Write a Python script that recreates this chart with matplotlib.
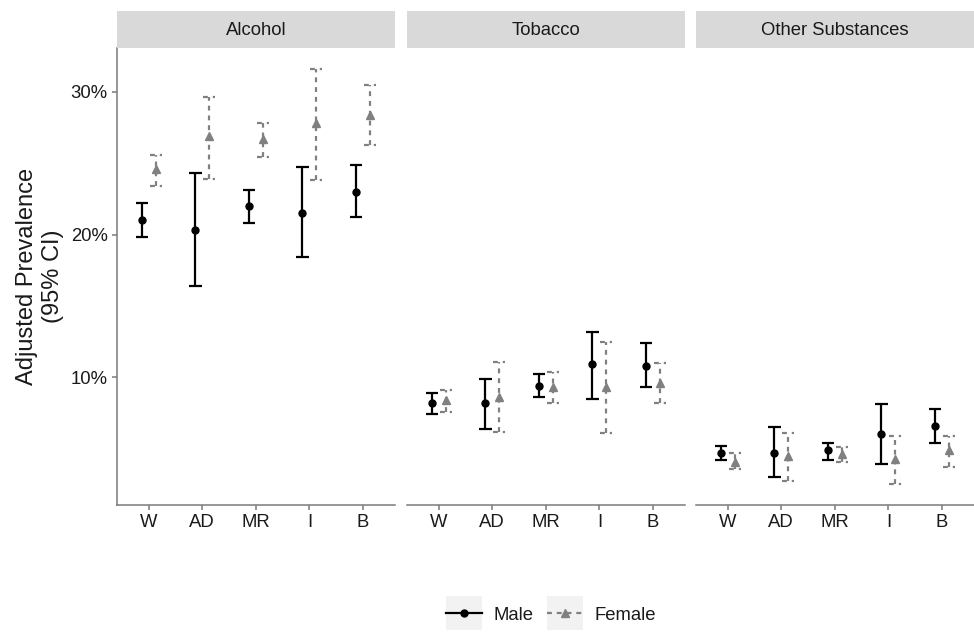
import matplotlib
matplotlib.use("Agg")
import matplotlib.pyplot as plt
from matplotlib.lines import Line2D
from matplotlib.patches import Rectangle
from matplotlib.legend_handler import HandlerLine2D

plt.rcParams['font.family'] = ['Liberation Sans', 'DejaVu Sans']

# data (percent)
groups = ["W", "AD", "MR", "I", "B"]
panels = ["Alcohol", "Tobacco", "Other Substances"]

alcohol_male = [21.0, 20.3, 22.0, 21.5, 23.0]
alcohol_male_lo = [19.8, 16.4, 20.8, 18.4, 21.2]
alcohol_male_hi = [22.2, 24.3, 23.1, 24.7, 24.9]
alcohol_female = [24.6, 26.9, 26.7, 27.8, 28.4]
alcohol_female_lo = [23.4, 23.9, 25.45, 23.8, 26.3]
alcohol_female_hi = [25.6, 29.6, 27.8, 31.6, 30.5]

tobacco_male = [8.2, 8.2, 9.4, 10.9, 10.8]
tobacco_male_lo = [7.4, 6.4, 8.6, 8.5, 9.3]
tobacco_male_hi = [8.9, 9.9, 10.2, 13.2, 12.4]
tobacco_female = [8.4, 8.6, 9.3, 9.3, 9.6]
tobacco_female_lo = [7.6, 6.2, 8.2, 6.1, 8.2]
tobacco_female_hi = [9.1, 11.1, 10.4, 12.5, 11.0]

other_male = [4.7, 4.7, 4.9, 6.0, 6.6]
other_male_lo = [4.2, 3.0, 4.2, 3.9, 5.4]
other_male_hi = [5.2, 6.5, 5.4, 8.1, 7.8]
other_female = [4.05, 4.5, 4.6, 4.3, 4.9]
other_female_lo = [3.55, 2.75, 4.1, 2.5, 3.7]
other_female_hi = [4.7, 6.1, 5.1, 5.9, 5.9]

yticks = [10, 20, 30]

panel_data = [
    (alcohol_male, alcohol_male_lo, alcohol_male_hi, alcohol_female, alcohol_female_lo, alcohol_female_hi),
    (tobacco_male, tobacco_male_lo, tobacco_male_hi, tobacco_female, tobacco_female_lo, tobacco_female_hi),
    (other_male, other_male_lo, other_male_hi, other_female, other_female_lo, other_female_hi),
]

W, H = 974, 632
fig = plt.figure(figsize=(W / 100, H / 100), dpi=100)

axis_col = '#7a7a7a'
text_col = '#1a1a1a'
grey = '#808080'
dodge = 0.13
cap = 0.115
dash = (0, (2.2, 2.2))

panel_left = [116.7, 406.7, 695.7]
panel_w = 278.3
top, bottom = 47.7, 505
strip_top = 10.7

for i, (name, d) in enumerate(zip(panels, panel_data)):
    m, mlo, mhi, f, flo, fhi = d
    x0 = panel_left[i]
    ax = fig.add_axes([x0 / W, (H - bottom) / H, panel_w / W, (bottom - top) / H])
    xs = range(1, len(groups) + 1)
    xm = [x - dodge for x in xs]
    xf = [x + dodge for x in xs]

    ax.vlines(xm, mlo, mhi, color='black', lw=1.6)
    ax.hlines(mlo, [x - cap for x in xm], [x + cap for x in xm], color='black', lw=1.6)
    ax.hlines(mhi, [x - cap for x in xm], [x + cap for x in xm], color='black', lw=1.6)
    ax.plot(xm, m, 'o', color='black', ms=5)

    ax.vlines(xf, flo, fhi, color=grey, lw=1.6, linestyles=[dash])
    ax.hlines(flo, [x - cap for x in xf], [x + cap for x in xf], color=grey, lw=1.6, linestyles=[dash])
    ax.hlines(fhi, [x - cap for x in xf], [x + cap for x in xf], color=grey, lw=1.6, linestyles=[dash])
    ax.plot(xf, f, '^', color=grey, ms=6)

    ax.set_xlim(0.4, 5.6)
    ax.set_ylim(1.06, 33.08)
    ax.set_xticks(list(xs))
    ax.set_xticklabels(groups)
    ax.set_yticks(yticks)
    ax.set_yticklabels([f"{t}%" for t in yticks])
    for s in ['top', 'right']:
        ax.spines[s].set_visible(False)
    ax.spines['bottom'].set_color(axis_col)
    ax.spines['bottom'].set_linewidth(1.1)
    ax.spines['left'].set_color(axis_col)
    ax.spines['left'].set_linewidth(1.1)
    ax.tick_params(colors=axis_col, labelcolor=text_col, labelsize=13.3, length=3.5, width=1.1, pad=3)
    if i > 0:
        ax.spines['left'].set_visible(False)
        ax.tick_params(axis='y', left=False, labelleft=False)
    else:
        ax.set_ylabel("Adjusted Prevalence\n(95% CI)", fontsize=17, color=text_col, labelpad=5, linespacing=1.2)

    sax = fig.add_axes([x0 / W, (H - top) / H, panel_w / W, (top - strip_top) / H])
    sax.set_facecolor('#d9d9d9')
    sax.set_xticks([])
    sax.set_yticks([])
    for s in sax.spines.values():
        s.set_visible(False)
    sax.text(0.5, 0.47, name, ha='center', va='center', fontsize=13.3, color=text_col, transform=sax.transAxes)


class KeyHandler(HandlerLine2D):
    def create_artists(self, legend, orig_handle, xdescent, ydescent, width, height, fontsize, trans):
        arts = super().create_artists(legend, orig_handle, xdescent, ydescent, width, height, fontsize, trans)
        kh = 24.5
        cy = height / 2 - ydescent
        bg = Rectangle((-xdescent, cy - kh / 2), width, kh, facecolor='#f2f2f2', edgecolor='none', transform=trans)
        return [bg] + list(arts)


h_male = Line2D([], [], color='black', lw=1.6, marker='o', ms=5)
h_female = Line2D([], [], color=grey, lw=1.6, ls=dash, marker='^', ms=6)
fig.legend([h_male, h_female], ["Male", "Female"], loc='center', bbox_to_anchor=(551 / W, 1 - 615 / H),
           ncol=2, frameon=False, fontsize=13.3, handlelength=1.95, handletextpad=0.64, columnspacing=0.7,
           handler_map={Line2D: KeyHandler(numpoints=1)}, labelcolor=text_col)

fig.savefig('out.png', dpi=100)
